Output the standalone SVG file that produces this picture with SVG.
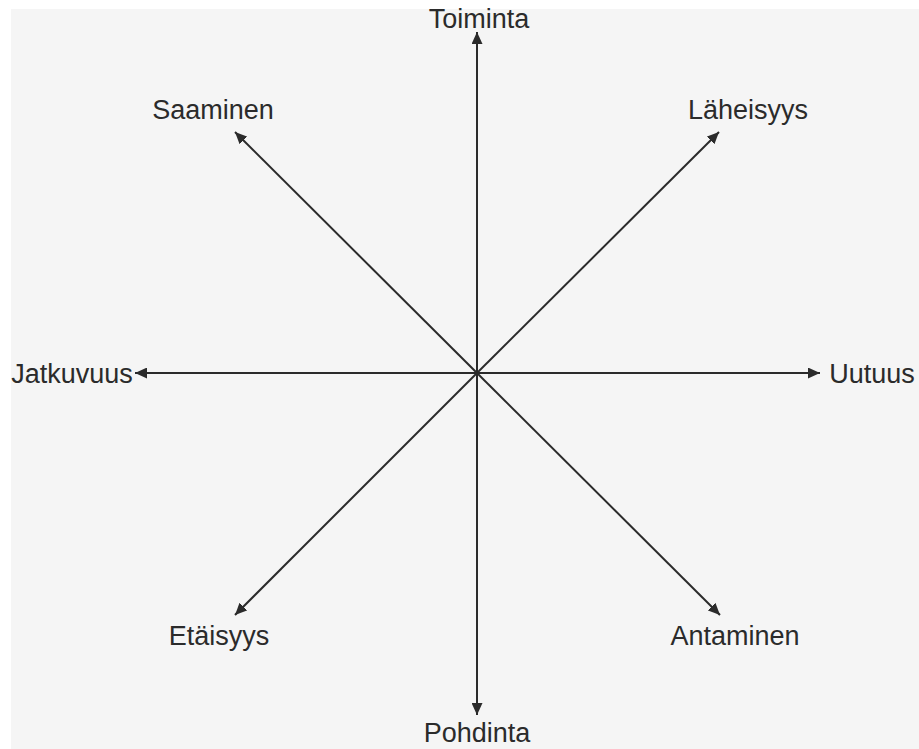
<svg xmlns="http://www.w3.org/2000/svg" width="919" height="749" viewBox="0 0 919 749">
<defs>
<style>
text{font-family:"Liberation Sans",Arial,sans-serif;font-size:27px;fill:#2b2b2b;text-anchor:middle}
.ax{stroke:#2b2b2b;stroke-width:2;fill:none;marker-end:url(#ah)}
</style>
<marker id="ah" markerUnits="userSpaceOnUse" markerWidth="12" markerHeight="11" refX="12" refY="5.5" orient="auto">
<path d="M0,0 L12,5.5 L0,11 Z" fill="#2b2b2b"/>
</marker>
</defs>
<rect width="919" height="749" fill="#ffffff"/>
<rect x="11" y="9" width="908" height="740" fill="#f5f5f5"/>
<g id="connectors">
<line class="ax" x1="477" y1="373" x2="477" y2="32"/>
<line class="ax" x1="477" y1="373" x2="477" y2="715"/>
<line class="ax" x1="477" y1="373" x2="135" y2="373"/>
<line class="ax" x1="477" y1="373" x2="820" y2="373"/>
<line class="ax" x1="477" y1="373" x2="235" y2="132"/>
<line class="ax" x1="477" y1="373" x2="719" y2="132"/>
<line class="ax" x1="477" y1="373" x2="235" y2="615"/>
<line class="ax" x1="477" y1="373" x2="720" y2="615"/>
</g>
<g id="toiminta"><text x="479" y="28">Toiminta</text></g>
<g id="pohdinta"><text x="477" y="742">Pohdinta</text></g>
<g id="jatkuvuus"><text x="72" y="383">Jatkuvuus</text></g>
<g id="uutuus"><text x="872" y="383">Uutuus</text></g>
<g id="saaminen"><text x="213" y="119">Saaminen</text></g>
<g id="laheisyys"><text x="748" y="119">Läheisyys</text></g>
<g id="etaisyys"><text x="219" y="645">Etäisyys</text></g>
<g id="antaminen"><text x="735" y="645">Antaminen</text></g>
</svg>
